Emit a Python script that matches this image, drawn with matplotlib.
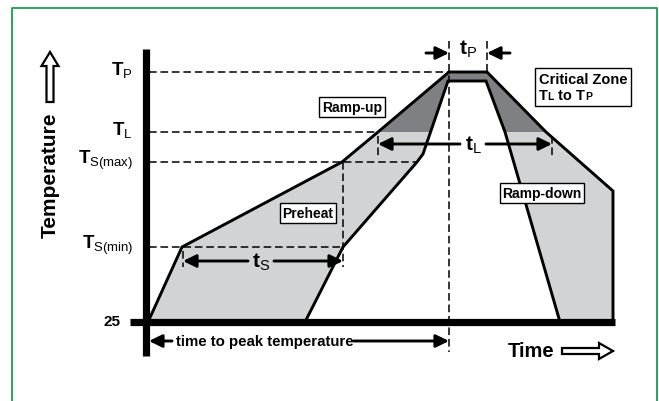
import matplotlib
matplotlib.use("Agg")
import matplotlib.pyplot as plt
import matplotlib.patches as mpatches
from matplotlib.offsetbox import TextArea, HPacker, VPacker, AnnotationBbox

plt.rcParams['font.family'] = ['Liberation Sans', 'DejaVu Sans']
plt.rcParams['mathtext.fontset'] = 'custom'
plt.rcParams['mathtext.rm'] = 'Liberation Sans'
plt.rcParams['mathtext.bf'] = 'Liberation Sans:bold'
plt.rcParams['mathtext.it'] = 'Liberation Sans:italic'

# ---------------- data (schematic units: time from origin, temperature above 25) -------------
level_names = [r'$\mathbf{T}_{\mathrm{P}}$', r'$\mathbf{T}_{\mathrm{L}}$',
               r'$\mathbf{T}_{\mathrm{S(max)}}$', r'$\mathbf{T}_{\mathrm{S(min)}}$']
level_values = [250, 190, 160, 75]
level_dash_end = [303, 232, 271, 197]
base_label = '25'

time_outer = [2, 36, 196, 232, 303, 341, 400, 467, 467]
temp_outer = [0, 75, 160, 190, 250, 250, 190, 131, 0]
time_inner = [159, 197, 271, 277, 302, 340, 359, 414]
temp_inner = [0, 75, 160, 168, 241, 241, 190, 0]

peak_start, peak_end = 303, 341
ts_start, ts_end = 37, 197
tl_start, tl_end = 232, 406

zone_labels = ['Ramp-up', 'Preheat', 'Ramp-down']
zone_pos_t = [206, 162, 396]
zone_pos_T = [215, 109, 129]

light = '#d1d3d4'
dark = '#7f8083'
green = '#1f9a4c'

fig = plt.figure(figsize=(6.59, 4.02), dpi=100)
ax = fig.add_axes([0, 0, 1, 1])
ax.set_xlim(-146, 513)
ax.set_ylim(-79, 323)
ax.axis('off')

# green frame
ax.plot([-134, -134, 511, 511], [-90, 314, 314, -90], color=green, lw=1.3, clip_on=False)

# filled band
band_t = time_outer + time_inner[::-1]
band_T = temp_outer + temp_inner[::-1]
poly_light = mpatches.Polygon(list(zip(band_t, band_T)), closed=True, fc=light, ec='none', zorder=1)
ax.add_patch(poly_light)
poly_dark = mpatches.Polygon(list(zip(band_t, band_T)), closed=True, fc=dark, ec='none', zorder=1.1)
ax.add_patch(poly_dark)
clip_rect = mpatches.Rectangle((-50, level_values[1]), 600, 200, transform=ax.transData)
poly_dark.set_clip_path(clip_rect)

ax.plot(time_outer, temp_outer, color='black', lw=2.1, zorder=3, solid_joinstyle='miter')
ax.plot(time_inner, temp_inner, color='black', lw=2.1, zorder=3, solid_joinstyle='miter')

# axes bars
ax.plot([0, 0], [-34, 273], color='black', lw=5.2, solid_capstyle='butt', zorder=4)
ax.plot([-16, 469], [0, 0], color='black', lw=5.2, solid_capstyle='butt', zorder=4)

dash = dict(color='black', lw=1.1, linestyle=(0, (5, 2.5)), zorder=2)
# horizontal level dashes and labels
for name, val, end in zip(level_names, level_values, level_dash_end):
    ax.plot([3, end], [val, val], **dash)
    ax.text(-13, val + 3, name, ha='right', va='center', fontsize=13.5)
ax.text(-26, 1, base_label, ha='right', va='center', fontsize=11, fontweight='bold')

# vertical dashes
ax.plot([ts_end, ts_end], [160, 55], **dash)
ax.plot([peak_start, peak_start], [281, -30], **dash)
ax.plot([peak_end, peak_end], [281, 250], **dash)
ax.plot([ts_start, ts_start], [71, 55], **dash)
ax.plot([tl_start, tl_start], [186, 166], **dash)
ax.plot([tl_end, tl_end], [186, 166], **dash)

arw = dict(arrowstyle='-|>,head_length=0.65,head_width=0.32', color='black', lw=2.1,
           shrinkA=0, shrinkB=0, mutation_scale=12)

def arrow(t0, T0, t1, T1):
    ax.annotate('', xy=(t1, T1), xytext=(t0, T0), arrowprops=arw, zorder=5)

# t_S
arrow(102, 61, ts_start, 61)
arrow(128, 61, ts_end, 61)
ax.text(115, 61, r'$\mathbf{t}_{\mathrm{S}}$', ha='center', va='center', fontsize=15)
# t_L
arrow(314, 178, tl_start, 178)
arrow(340, 178, tl_end, 178)
ax.text(327, 178, r'$\mathbf{t}_{\mathrm{L}}$', ha='center', va='center', fontsize=15)
# t_P
arrow(280, 269, peak_start, 269)
arrow(364, 269, peak_end, 269)
ax.text(322, 274, r'$\mathbf{t}_{\mathrm{P}}$', ha='center', va='center', fontsize=15)
# time to peak
arrow(26, -19, 3, -19)
arrow(208, -19, peak_start, -19)
ax.text(119, -19, 'time to peak temperature', ha='center', va='center',
        fontsize=10.8, fontweight='bold', zorder=6)

# zone boxes
for lab, t, T in zip(zone_labels, zone_pos_t, zone_pos_T):
    ax.text(t, T, lab, ha='center', va='center', fontsize=10, fontweight='bold', zorder=6,
            bbox=dict(boxstyle='square,pad=0.2', fc='white', ec='black', lw=1.0))

# critical zone box
big = dict(fontsize=10.5, fontweight='bold')
small = dict(fontsize=7.5, fontweight='bold')
line1 = TextArea('Critical Zone', textprops=big)
line2 = HPacker(children=[TextArea('T', textprops=big), TextArea('L', textprops=small),
                          TextArea(' to T', textprops=big), TextArea('P', textprops=small)],
                align='baseline', pad=0, sep=0)
vp = VPacker(children=[line1, line2], align='left', pad=0, sep=2)
ab = AnnotationBbox(vp, (437, 235), xycoords='data', frameon=True, box_alignment=(0.5, 0.5),
                    pad=0.25, bboxprops=dict(boxstyle='square,pad=0.25', ec='black', lw=1.0, fc='white'),
                    zorder=6)
ax.add_artist(ab)

# hollow arrows
ax.add_patch(mpatches.FancyArrow(-96, 220, 0, 50, width=7, head_width=17, head_length=14,
                                 length_includes_head=True, fc='white', ec='black', lw=1.6))
ax.text(-96, 148, 'Temperature', rotation=90, ha='center', va='center', fontsize=15, fontweight='bold')
ax.add_patch(mpatches.FancyArrow(416, -29, 51, 0, width=6, head_width=16, head_length=14,
                                 length_includes_head=True, fc='white', ec='black', lw=1.6))
ax.text(385, -29, 'Time', ha='center', va='center', fontsize=14.5, fontweight='bold')

fig.savefig('out.png', dpi=100)
